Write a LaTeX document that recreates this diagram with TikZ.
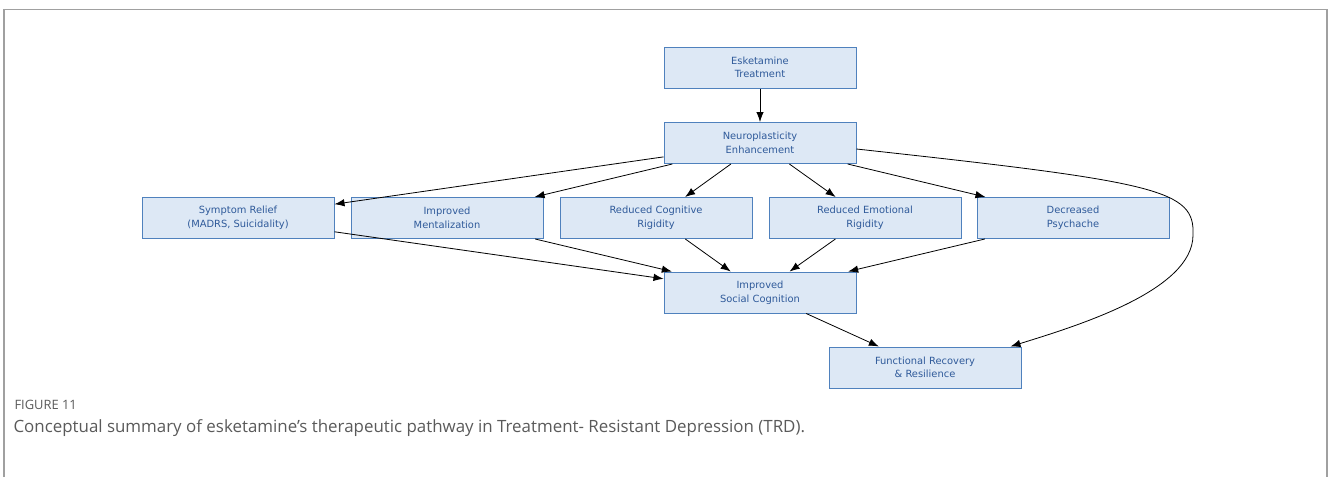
\documentclass[tikz,border=0pt]{standalone}
\usepackage{fontspec}
\setmainfont{DejaVu Sans}
\newfontfamily\capfont{Open Sans}
\usetikzlibrary{arrows.meta}
\definecolor{boxfill}{HTML}{DDE8F5}
\definecolor{boxline}{HTML}{4F81BD}
\definecolor{boxtext}{HTML}{2F5A9A}
\definecolor{framegray}{HTML}{A0A0A0}
\definecolor{capgray}{HTML}{5A5A5A}
\tikzset{
  stepbox/.style={draw=boxline, fill=boxfill, line width=1pt, minimum width=192pt, minimum height=41pt,
    inner sep=0pt, align=center, text=boxtext, font=\fontsize{9.9}{13.6}\selectfont},
  arr/.style={-{Latex[length=10pt,width=7.5pt]}, line width=0.8pt, black},
  frameline/.style={draw=framegray, line width=1.4pt}
}
\begin{document}
\begin{tikzpicture}[x=1pt,y=-1pt]
\useasboundingbox (0,0) rectangle (1328,477);
\coordinate (fl) at (4,477);
\coordinate (ftl) at (4,9.5);
\coordinate (ftr) at (1327,9.5);
\coordinate (fr) at (1327,477);
\draw[frameline] (fl) -- (ftl) -- (ftr) -- (fr);

\node[stepbox] (esk) at (760,67.5) {Esketamine\\Treatment};
\node[stepbox] (neuro) at (760,143) {Neuroplasticity\\Enhancement};
\node[stepbox] (sym) at (238,218) {Symptom Relief\\(MADRS, Suicidality)};
\node[stepbox] (ment) at (447,218) {Improved\\Mentalization};
\node[stepbox] (cog) at (656,218) {Reduced Cognitive\\Rigidity};
\node[stepbox] (emo) at (865,218) {Reduced Emotional\\Rigidity};
\node[stepbox] (psy) at (1073,218) {Decreased\\Psychache};
\node[stepbox] (soc) at (760,292.5) {Improved\\Social Cognition};
\node[stepbox] (fun) at (925,367.5) {Functional Recovery\\\& Resilience};

\draw[arr] (esk) -- (neuro);
\draw[arr] (neuro) -- (sym);
\draw[arr] (neuro) -- (ment);
\draw[arr] (neuro) -- (cog);
\draw[arr] (neuro) -- (emo);
\draw[arr] (neuro) -- (psy);
\draw[arr] (sym) -- (soc);
\draw[arr] (ment) -- (soc);
\draw[arr] (cog) -- (soc);
\draw[arr] (emo) -- (soc);
\draw[arr] (psy) -- (soc);
\draw[arr] (soc) -- (fun);
\draw[arr] ([yshift=-6pt]neuro.east) .. controls (1160,182) and (1195,190) .. (1193,235)
   .. controls (1193,290) and (1080,325) .. ([xshift=-11pt]fun.north east);

\node[anchor=west, text=capgray, font=\capfont\fontsize{12.9}{14}\selectfont] (figlab) at (11,405) {FIGURE 11};
\node[anchor=west, text=capgray, font=\capfont\fontsize{16.9}{19}\selectfont] (caption) at (10,428)
  {Conceptual summary of esketamine’s therapeutic pathway in Treatment- Resistant Depression (TRD).};
\end{tikzpicture}
\end{document}
